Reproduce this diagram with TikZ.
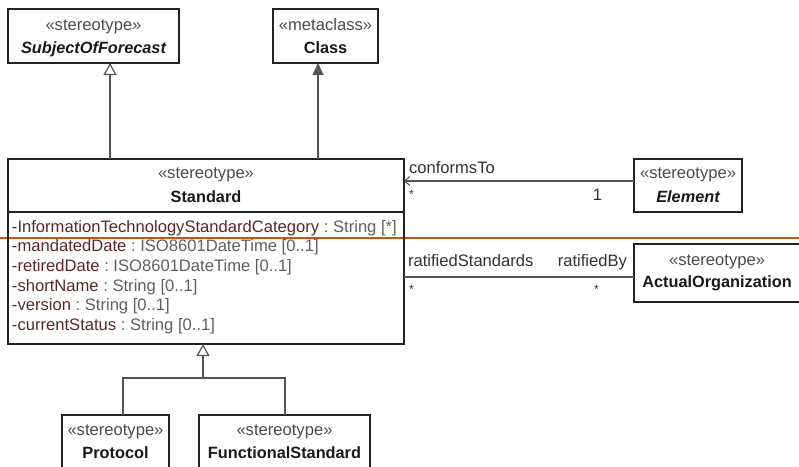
\documentclass[tikz,border=0pt]{standalone}
\usepackage{fontspec}
\setmainfont{Liberation Sans}
\usetikzlibrary{arrows.meta}
\definecolor{edgegray}{RGB}{85,85,85}
\definecolor{framegray}{RGB}{35,35,35}
\definecolor{stereogray}{RGB}{75,75,75}
\definecolor{attrname}{RGB}{90,40,40}
\definecolor{attrtype}{RGB}{95,95,95}
\definecolor{labelgray}{RGB}{50,50,50}
\definecolor{marker}{RGB}{200,85,10}

\newcommand{\umlattr}[2]{\textcolor{attrname}{#1}\textcolor{attrtype}{\ :\ #2}}

\begin{document}
\begin{tikzpicture}[x=1pt, y=-1pt,
  every node/.style={inner sep=0pt, outer sep=0pt},
  txt/.style={font=\fontsize{16.6}{19}\selectfont, anchor=base},
  classbox/.style={draw=framegray, line width=1.5pt, rectangle, anchor=north west},
  stereo/.style={txt, text=stereogray},
  cname/.style={txt, font=\fontsize{16.3}{19}\selectfont\bfseries, text=black!90},
  aname/.style={txt, font=\fontsize{16.3}{19}\selectfont\bfseries\itshape, text=black!90},
  attr/.style={txt, anchor=base west},
  elabel/.style={txt, text=labelgray},
  mult/.style={font=\fontsize{12}{14}\selectfont, anchor=base, text=labelgray},
  conn/.style={draw=edgegray, line width=1.2pt},
  gen/.style={conn, -{Triangle[open, length=12pt, width=13pt, fill=white, line width=1.2pt]}},
  realize/.style={conn, -{Triangle[length=12pt, width=11pt, fill=edgegray]}},
  nav/.style={conn, -{Straight Barb[length=5pt, width=9pt, line width=1pt]}},
]
\useasboundingbox (0,0) rectangle (799,466);

% marker line across the page
\draw[marker, line width=2pt] (0,238) -- (799,238);

% class frames
\node[classbox, minimum width=171pt, minimum height=54pt] (sof) at (8,9) {};
\node[classbox, minimum width=105pt, minimum height=54pt] (cls) at (273,9) {};
\node[classbox, minimum width=396pt, minimum height=185pt] (std) at (8,159) {};
\node[classbox, minimum width=108pt, minimum height=53pt] (elem) at (634,159) {};
\node[classbox, minimum width=168pt, minimum height=58pt] (org) at (634,244) {};
\node[classbox, minimum width=107pt, minimum height=70pt] (proto) at (62,415) {};
\node[classbox, minimum width=171pt, minimum height=70pt] (fstd) at (199,415) {};
\coordinate (sepL) at (8,212);
\draw[draw=framegray, line width=1.2pt] (sepL) -- (sepL -| std.east);

% class headers
\node[stereo] (sofS) at (93.5,30) {«stereotype»};
\node[aname] (sofN) at (93.5,53) {SubjectOfForecast};
\node[stereo] (clsS) at (325.5,30) {«metaclass»};
\node[cname] (clsN) at (325.5,53) {Class};
\node[stereo] (stdS) at (206,178) {«stereotype»};
\node[cname] (stdN) at (206,202.7) {Standard};
\node[stereo] (elemS) at (688,178) {«stereotype»};
\node[aname] (elemN) at (688,202.7) {Element};
\node[stereo] (orgS) at (717,265) {«stereotype»};
\node[cname] (orgN) at (717,287.5) {ActualOrganization};
\node[stereo] (protoS) at (115.5,435) {«stereotype»};
\node[cname] (protoN) at (115.5,458) {Protocol};
\node[stereo] (fstdS) at (284.5,435) {«stereotype»};
\node[cname] (fstdN) at (284.5,458) {FunctionalStandard};

% attributes of Standard
\node[attr] (a1) at (12,232.3) {\umlattr{-InformationTechnologyStandardCategory}{String [*]}};
\node[attr] (a2) at (12,251.9) {\umlattr{-mandatedDate}{ISO8601DateTime [0..1]}};
\node[attr] (a3) at (12,271.5) {\umlattr{-retiredDate}{ISO8601DateTime [0..1]}};
\node[attr] (a4) at (12,291.1) {\umlattr{-shortName}{String [0..1]}};
\node[attr] (a5) at (12,310.7) {\umlattr{-version}{String [0..1]}};
\node[attr] (a6) at (12,330.3) {\umlattr{-currentStatus}{String [0..1]}};

% generalizations and metaclass extension
\coordinate (g1) at (110,0);
\coordinate (g2) at (318,0);
\draw[gen] (g1 |- std.north) -- (g1 |- sof.south);
\draw[realize] (g2 |- std.north) -- (g2 |- cls.south);

\coordinate (jn) at (203,378);
\coordinate (pj) at (123,378);
\coordinate (fj) at (285,378);
\draw[conn] (pj |- proto.north) -- (pj) -- (fj) -- (fj |- fstd.north);
\draw[gen] (jn) -- (jn |- std.south);

% associations
\coordinate (c1) at (0,181);
\coordinate (c2) at (0,277);
\draw[nav] (c1 -| elem.west) -- (c1 -| std.east);
\draw[conn] (c2 -| org.west) -- (c2 -| std.east);

\node[elabel, anchor=base west] (lconf) at (409,173.3) {conformsTo};
\node[mult] (m1) at (411.5,198) {*};
\node[elabel] (m2) at (597.5,200) {1};
\node[elabel, anchor=base west] (lrs) at (408,266.7) {ratifiedStandards};
\node[elabel, anchor=base east] (lrb) at (627,266.7) {ratifiedBy};
\node[mult] (m3) at (411.5,293) {*};
\node[mult] (m4) at (596.5,293) {*};
\end{tikzpicture}
\end{document}
